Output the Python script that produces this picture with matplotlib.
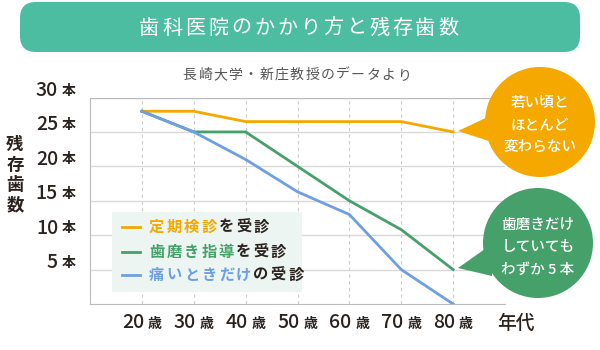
import matplotlib.pyplot as plt
from matplotlib import transforms
from matplotlib.patches import FancyBboxPatch, Circle, Polygon, Rectangle

plt.rcParams['font.family'] = ['Noto Sans CJK JP', 'DejaVu Sans']

ages = [20, 30, 40, 50, 60, 70, 80]
checkup = [28, 28, 26.5, 26.5, 26.5, 26.5, 25]
brushing = [28, 25, 25, 20, 15, 10.8, 5]
pain = [28, 25, 21, 16.3, 13, 5, 0]
yticks = [5, 10, 15, 20, 25, 30]

orange = '#F5A800'
green = '#45A06A'
blue = '#6E9FE2'
dark = '#2A221E'

fig = plt.figure(figsize=(6, 3.5), dpi=100)
ax = fig.add_axes([90 / 600, 46 / 350, 415 / 600, 206.5 / 350])

ax.plot(ages, checkup, color=orange, lw=2, zorder=3)
ax.plot(ages, brushing, color=green, lw=2, zorder=3)
ax.plot(ages, pain, color=blue, lw=2, zorder=3)

ax.set_xlim(10, 90)
ax.set_ylim(0, 30)
ax.set_xticks(range(20, 91, 10))
ax.set_yticks(yticks)
ax.tick_params(length=0, labelleft=False, labelbottom=False)
ax.grid(axis='y', color='#d9d9d9', lw=1)
ax.grid(axis='x', color='#cccccc', lw=0.8, ls=(0, (3, 3)))
ax.set_axisbelow(True)
for s in ['top', 'left', 'bottom']:
    ax.spines[s].set_color('#bbbbbb')
ax.spines['right'].set_visible(False)

# y tick labels: number + 本
ty = transforms.blended_transform_factory(fig.transFigure, ax.transData)
ty = transforms.offset_copy(ty, fig=fig, x=0, y=7, units='dots')
for v in yticks:
    ax.text(58 / 600, v, str(v), transform=ty, ha='right', va='center',
            fontsize=14, color=dark, fontweight='medium', clip_on=False)
    ax.text(62 / 600, v, '本', transform=ty, ha='left', va='center',
            fontsize=10, color=dark, fontweight='bold', clip_on=False)

# x tick labels: number + 歳
tx = transforms.blended_transform_factory(ax.transData, fig.transFigure)
tx_num = transforms.offset_copy(tx, fig=fig, x=2, y=0, units='dots')
tx_sai = transforms.offset_copy(tx, fig=fig, x=6, y=0, units='dots')
for a in ages:
    ax.text(a, 1 - 323 / 350, str(a), transform=tx_num, ha='right', va='center',
            fontsize=14, color=dark, fontweight='medium', clip_on=False)
    ax.text(a, 1 - 324 / 350, '歳', transform=tx_sai, ha='left', va='center',
            fontsize=10, color=dark, fontweight='bold', clip_on=False)

# overlay in pixel coordinates
ov = fig.add_axes([0, 0, 1, 1], zorder=5)
ov.set_xlim(0, 600)
ov.set_ylim(350, 0)
ov.axis('off')
ov.patch.set_visible(False)


def spaced(x, y, s, pitch, **kw):
    for i, ch in enumerate(s):
        ov.text(x + pitch * (i + 0.5), y, ch, ha='center', va='center', **kw)
    return x + pitch * len(s)


ov.text(516, 323, '年代', ha='center', va='center', fontsize=13.5,
        color=dark, fontweight='medium')
for i, ch in enumerate('残存歯数'):
    ov.text(15, 145 + i * 20, ch, ha='center', va='center', fontsize=12.5,
            color=dark, fontweight='bold')

# title bar
ov.add_patch(FancyBboxPatch((20, 2), 560, 50, boxstyle='round,pad=0,rounding_size=16',
                            fc='#4DBDA2', ec='none'))
spaced(138, 28, '歯科医院のかかり方と残存歯数', 23, fontsize=14.5, color='white')
spaced(182, 75, '長崎大学・新庄教授のデータより', 15.3, fontsize=10, color='#555555')

# legend
ov.add_patch(Rectangle((112, 212), 190, 80, fc='#EDF5F2', ec='none'))
rows = [(226.5, orange, '定期検診', 'を受診'),
        (251.5, green, '歯磨き指導', 'を受診'),
        (275, blue, '痛いときだけ', 'の受診')]
for y, c, colored, rest in rows:
    ov.plot([122, 140], [y, y], color=c, lw=2)
    xe = spaced(148, y, colored, 17.4, fontsize=11, color=c, fontweight='bold')
    spaced(xe, y, rest, 17.4, fontsize=11, color=dark, fontweight='bold')

# bubbles
ov.add_patch(Polygon([(458, 131), (492, 115), (492, 142)], closed=True, fc=orange, ec='none'))
ov.add_patch(Circle((540, 122), 55, fc=orange, ec='none'))
for i, line in enumerate(['若い頃と', 'ほとんど', '変わらない']):
    ov.text(540, 103 + i * 22, line, ha='center', va='center', fontsize=10.5,
            color='white', fontweight='medium')

ov.add_patch(Polygon([(458, 268), (492, 244), (492, 276)], closed=True, fc=green, ec='none'))
ov.add_patch(Circle((538, 243), 55, fc=green, ec='none'))
for i, line in enumerate(['歯磨きだけ', 'していても', 'わずか 5 本']):
    ov.text(538, 225 + i * 22.5, line, ha='center', va='center', fontsize=10.5,
            color='white', fontweight='medium')

fig.savefig('out.png', dpi=100)
